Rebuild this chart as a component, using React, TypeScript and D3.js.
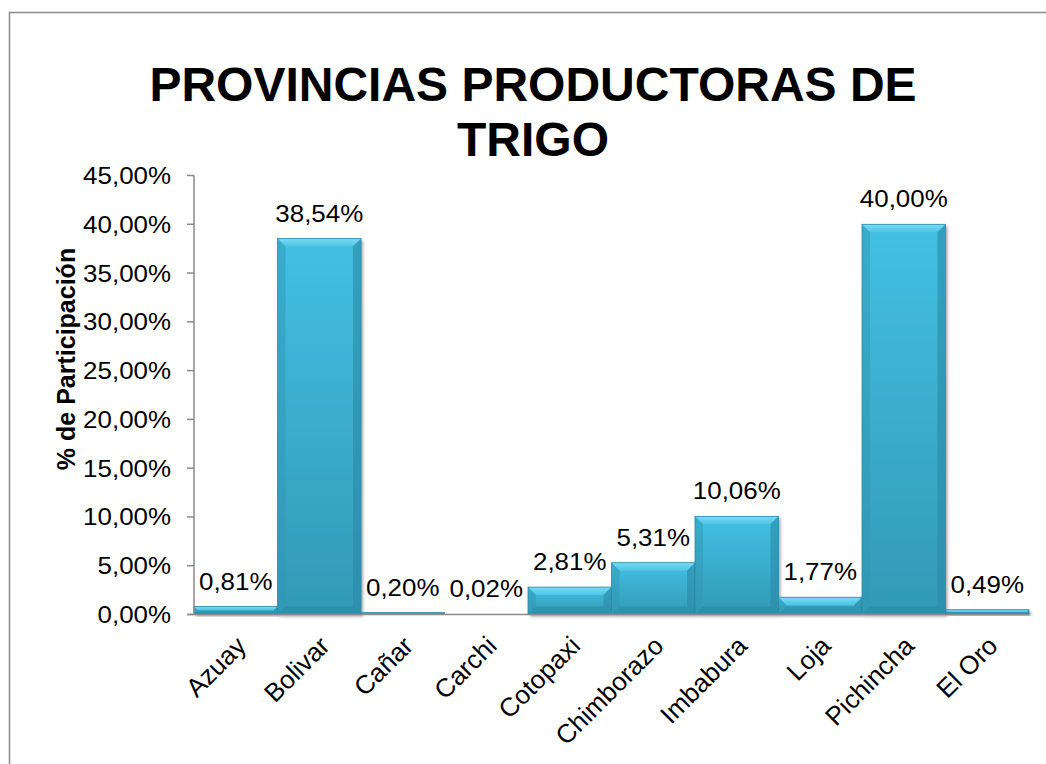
import React from "react";
import * as d3 from "d3";

const categories = ["Azuay", "Bolivar", "Cañar", "Carchi", "Cotopaxi", "Chimborazo", "Imbabura", "Loja", "Pichincha", "El Oro"];
const values = [0.81, 38.54, 0.2, 0.02, 2.81, 5.31, 10.06, 1.77, 40.0, 0.49];
const yTicks = [0, 5, 10, 15, 20, 25, 30, 35, 40, 45];
const titleLines = ["PROVINCIAS PRODUCTORAS DE", "TRIGO"];
const yTitle = "% de Participación";

const W = 1046;
const H = 764;
const plot = { left: 194, right: 1029, top: 175.5, bottom: 614.5 };
const SX = 1.08;

const fmt = (v: number) => v.toFixed(2).replace(".", ",") + "%";

export default function App() {
  const x = d3.scaleBand<string>().domain(categories).range([plot.left, plot.right]).paddingInner(0).paddingOuter(0);
  const y = d3.scaleLinear().domain([0, 45]).range([plot.bottom, plot.top]);
  const font = "Arial, 'Liberation Sans', sans-serif";

  return (
    <svg width={W} height={H} style={{ position: "absolute", left: 0, top: 0 }} fontFamily={font}>
      <defs>
        <linearGradient id="barBase" x1="0" y1="0" x2="0" y2="1">
          <stop offset="0" stopColor="#43c0e3" />
          <stop offset="1" stopColor="#3299b6" />
        </linearGradient>
        <linearGradient id="bevelTop" x1="0" y1="0" x2="0" y2="1">
          <stop offset="0" stopColor="#7ddaf3" />
          <stop offset="1" stopColor="#4cc5e7" />
        </linearGradient>
        <filter id="shadow" x="-10%" y="-10%" width="130%" height="130%">
          <feDropShadow dx="2" dy="2" stdDeviation="1.5" floodColor="#000" floodOpacity="0.35" />
        </filter>
      </defs>
      <rect x={0} y={0} width={W} height={H} fill="#fff" />
      <rect x={9.5} y={12.5} width={1100} height={800} fill="none" stroke="#8c8c8c" strokeWidth={1.5} />

      {titleLines.map((t, i) => (
        <text key={i} x={533} y={101 + i * 55} textAnchor="middle" fontSize={48} fontWeight="bold" fill="#000">
          {t}
        </text>
      ))}

      <text transform={`translate(75,359) rotate(-90)`} textAnchor="middle" fontSize={25} fontWeight="bold" fill="#000">
        {yTitle}
      </text>

      {/* bars */}
      {categories.map((c, i) => {
        const v = values[i];
        const x0 = x(c)!;
        const w = x.bandwidth();
        const y0 = y(v);
        const h = plot.bottom - y0;
        const b = Math.min(8, h / 2, w / 2);
        const x1 = x0 + w;
        const yb = plot.bottom;
        return (
          <g key={c}>
            <g filter="url(#shadow)">
              <rect x={x0} y={y0} width={w} height={h} fill="url(#barBase)" />
            </g>
            {h > 0.5 && (
              <>
                <path d={`M${x0},${y0}L${x1},${y0}L${x1 - b},${y0 + b}L${x0 + b},${y0 + b}Z`} fill="url(#bevelTop)" />
                <path d={`M${x0},${y0}L${x0 + b},${y0 + b}L${x0 + b},${yb - b}L${x0},${yb}Z`} fill="#2f97b4" opacity={0.5} />
                <path d={`M${x1},${y0}L${x1 - b},${y0 + b}L${x1 - b},${yb - b}L${x1},${yb}Z`} fill="#2a8aa6" opacity={0.6} />
                <path d={`M${x0},${yb}L${x0 + b},${yb - b}L${x1 - b},${yb - b}L${x1},${yb}Z`} fill="#2a88a3" opacity={0.55} />
                <rect x={x0} y={y0} width={w} height={h} fill="none" stroke="#2b8ba8" strokeWidth={0.8} />
              </>
            )}
          </g>
        );
      })}

      {/* axes */}
      <line x1={plot.left} x2={plot.left} y1={plot.top} y2={plot.bottom} stroke="#8a8a8a" strokeWidth={1.5} />
      <line x1={plot.left - 7} x2={plot.right} y1={plot.bottom} y2={plot.bottom} stroke="#8a8a8a" strokeWidth={1.5} />
      {yTicks.map((t) => (
        <g key={t}>
          <line x1={plot.left - 7} x2={plot.left} y1={y(t)} y2={y(t)} stroke="#8a8a8a" strokeWidth={1.5} />
          <text transform={`translate(171,${y(t) + 8.5}) scale(${SX},1)`} textAnchor="end" fontSize={24} fill="#000">
            {fmt(t)}
          </text>
        </g>
      ))}

      {/* data labels */}
      {categories.map((c, i) => (
        <text
          key={c}
          transform={`translate(${x(c)! + x.bandwidth() / 2},${y(values[i]) - 17}) scale(${SX},1)`}
          textAnchor="middle"
          fontSize={24}
          fill="#000"
        >
          {fmt(values[i])}
        </text>
      ))}

      {/* category labels */}
      {categories.map((c) => {
        const cx = x(c)! + x.bandwidth() / 2;
        return (
          <text key={c} transform={`translate(${cx + 12},${plot.bottom + 33}) rotate(-45)`} textAnchor="end" fontSize={26} fill="#000">
            {c}
          </text>
        );
      })}
    </svg>
  );
}
